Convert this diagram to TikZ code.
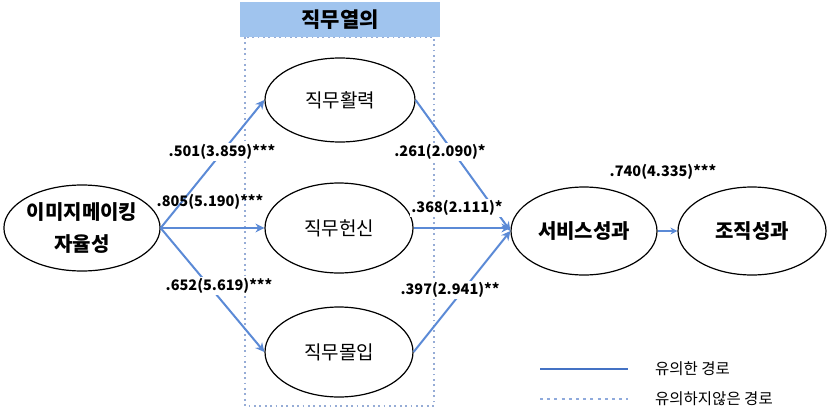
\documentclass[tikz,border=0pt]{standalone}
\usepackage{fontspec}
\setmainfont{Noto Sans CJK KR}
\usetikzlibrary{shapes.geometric,arrows.meta}
\definecolor{arrowblue}{RGB}{91,138,214}
\definecolor{headblue}{RGB}{160,196,238}
\definecolor{dotblue}{RGB}{150,172,214}
\definecolor{legsolid}{RGB}{68,114,196}
\definecolor{legdot}{RGB}{143,170,220}
\tikzset{
  oval/.style={draw=black,line width=1.2pt,ellipse,inner sep=0pt,minimum width=148pt,minimum height=86pt,align=center},
  bigtxt/.style={font=\fontsize{20}{32}\selectfont\bfseries},
  midtxt/.style={font=\fontsize{19}{22}\selectfont},
  path/.style={draw=arrowblue,line width=2pt,-{Stealth[length=9pt,width=9pt]}},
  coef/.style={font=\fontsize{14.5}{16}\selectfont\bfseries,fill=white,inner sep=1pt},
  legtxt/.style={font=\fontsize{15.5}{18}\selectfont,anchor=west,inner sep=0pt},
  boxdots/.style={draw=dotblue,line width=2pt,dash pattern=on 1.8pt off 3.6pt}
}
\begin{document}
\begin{tikzpicture}[x=1pt,y=-1pt]
\useasboundingbox (0,0) rectangle (827,420);
% dotted frame
\draw[boxdots] (245,37) rectangle (434,406);
\node[fill=headblue,minimum width=200pt,minimum height=35pt,inner sep=0pt,font=\fontsize{21}{24}\selectfont\bfseries] (head) at (340,19.5) {직무열의};
% ellipses
\node[oval,bigtxt,minimum width=150pt,minimum height=86pt] (L) at (82,228) {이미지메이킹\\자율성};
\node[oval,midtxt,minimum width=150pt,minimum height=84pt] (A) at (340,100) {직무활력};
\node[oval,midtxt,minimum width=148pt,minimum height=90pt] (B) at (339,228) {직무헌신};
\node[oval,midtxt,minimum width=148pt,minimum height=90pt] (C) at (339,352) {직무몰입};
\node[oval,bigtxt,minimum width=146pt,minimum height=88pt] (S) at (584,231) {서비스성과};
\node[oval,bigtxt,minimum width=148pt,minimum height=88pt] (O) at (752,231) {조직성과};
% paths
\draw[path] (L.east) -- (A.west);
\draw[path,line width=2.6pt] (L.east) -- (B.west);
\draw[path] (L.east) -- (C.west);
\draw[path] (A.east) -- (S.west);
\draw[path,line width=2.6pt] (B.east) -- (B.east -| S.west);
\draw[path] (C.east) -- (S.west);
\draw[path,-{Stealth[length=7pt,width=7pt]}] (S.east) -- (O.west);
% coefficients
\node[coef] (c1) at (222,152) {.501(3.859)***};
\node[coef,fill=none] (c2) at (210,202) {.805(5.190)***};
\node[coef] (c3) at (219,286) {.652(5.619)***};
\node[coef] (c4) at (440,152) {.261(2.090)*};
\node[coef] (c5) at (457,208) {.368(2.111)*};
\node[coef] (c6) at (450,290) {.397(2.941)**};
\node[coef,fill=none] (c7) at (663,172) {.740(4.335)***};
% legend
\coordinate (l1a) at (540,369);
\coordinate (l1b) at (628,369);
\coordinate (l2a) at (540,399);
\coordinate (l2b) at (628,399);
\draw[draw=legsolid,line width=2.2pt] (l1a) -- (l1b);
\draw[draw=legdot,line width=2.2pt,dash pattern=on 3pt off 4.2pt] (l2a) -- (l2b);
\node[legtxt] (t1) at (655,369) {유의한 경로};
\node[legtxt] (t2) at (655,399) {유의하지않은 경로};
\end{tikzpicture}
\end{document}
